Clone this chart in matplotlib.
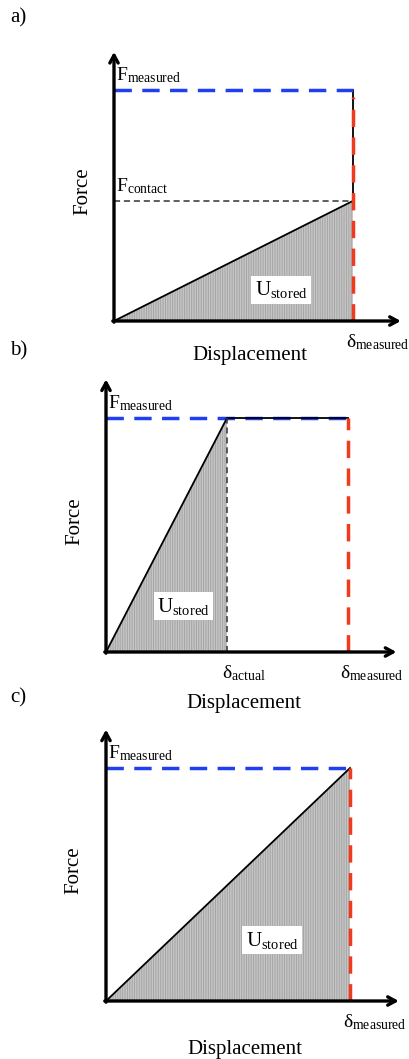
import matplotlib
matplotlib.use("Agg")
import matplotlib.pyplot as plt

plt.rcParams['font.family'] = ['Liberation Serif', 'DejaVu Serif']
plt.rcParams['mathtext.fontset'] = 'custom'
plt.rcParams['mathtext.rm'] = 'Liberation Serif'
plt.rcParams['mathtext.it'] = 'Liberation Serif:italic'
plt.rcParams['hatch.linewidth'] = 0.7

# datos (unidades normalizadas: delta_measured = 1, F_measured = 1)
paneles = ["a)", "b)", "c)"]
delta_measured = [1.0, 1.0, 1.0]
F_measured = [1.0, 1.0, 1.0]
F_contact_a = 0.52
delta_actual_b = 0.50

W, H = 409, 1059
fig = plt.figure(figsize=(W / 100, H / 100), dpi=100)

# origen (px), escala (px por unidad)
origenes = [(114, 321), (106, 652), (106, 1001)]
escalas = [(239, 231), (242, 234), (244, 233)]
xlim = (-0.05, 1.25)
ylim = (-0.05, 1.22)
x_flecha = 1.2
y_flecha = 1.165

AZUL = "#1f3ff0"
ROJO = "#f03a1e"
RELLENO = "#c6c6c6"
RAYAS = "#a4a4a4"

def crear_ejes(ox, oy, ux, uy):
    izq = ox + xlim[0] * ux
    der = ox + xlim[1] * ux
    arriba = oy - ylim[1] * uy
    abajo = oy - ylim[0] * uy
    ax = fig.add_axes([izq / W, 1 - abajo / H, (der - izq) / W, (abajo - arriba) / H])
    ax.set_xlim(*xlim)
    ax.set_ylim(*ylim)
    ax.axis("off")
    return ax

def ejes_flecha(ax):
    props = dict(arrowstyle="->,head_length=0.55,head_width=0.3", lw=2.4, color="black",
                 shrinkA=0, shrinkB=0)
    ax.annotate("", xy=(x_flecha, 0), xytext=(-0.005, 0), arrowprops=props)
    ax.annotate("", xy=(0, y_flecha), xytext=(0, -0.005), arrowprops=props)

def etiqueta_u(ax, x, y):
    ax.text(x, y, r"U$_{\mathrm{stored}}$", fontsize=15, ha="center", va="center",
            bbox=dict(facecolor="white", edgecolor="none", pad=2.5))

ejes = []
for i in range(3):
    ox, oy = origenes[i]
    ux, uy = escalas[i]
    ax = crear_ejes(ox, oy, ux, uy)
    ejes.append(ax)
    fig.text(10 / W, 1 - (18 + [0, 333, 680][i]) / H, paneles[i], fontsize=15,
             ha="left", va="center")
    ax.text(-0.13, 0.56, "Force", rotation=90, fontsize=15, ha="center", va="center")

# a) contacto antes del desplazamiento medido
ax = ejes[0]
dm, fm = delta_measured[0], F_measured[0]
ax.fill([0, dm, dm], [0, F_contact_a, 0], facecolor=RELLENO, edgecolor=RAYAS,
        hatch="|" * 7, lw=0)
ax.plot([0, dm], [0, F_contact_a], color="black", lw=1.3)
ax.plot([dm, dm], [F_contact_a, fm], color="black", lw=1.3)
ax.plot([0, dm], [F_contact_a, F_contact_a], color="#333333", lw=1.1, dashes=(4, 2.5))
ax.plot([0, dm], [fm, fm], color=AZUL, lw=2.5, dashes=(5, 3))
ax.plot([dm, dm], [0, fm * 0.97], color=ROJO, lw=2.5, dashes=(5, 3))
ax.text(0.01, fm + 0.02, r"F$_{\mathrm{measured}}$", fontsize=14, ha="left", va="bottom")
ax.text(0.01, F_contact_a + 0.02, r"F$_{\mathrm{contact}}$", fontsize=14, ha="left", va="bottom")
ax.text(dm - 0.03, -0.05, r"$\mathrm{δ}_{\mathrm{measured}}$", fontsize=14, ha="left", va="top")
etiqueta_u(ax, 0.70, 0.135)
ax.text(0.57, -0.15, "Displacement", fontsize=15, ha="center", va="center")
ejes_flecha(ax)

# b) fuerza máxima alcanzada en delta_actual
ax = ejes[1]
dm, fm = delta_measured[1], F_measured[1]
ax.fill([0, delta_actual_b, delta_actual_b], [0, fm, 0], facecolor=RELLENO,
        edgecolor=RAYAS, hatch="|" * 7, lw=0)
ax.plot([0, dm], [fm, fm], color=AZUL, lw=2.5, dashes=(5, 3))
ax.plot([0, delta_actual_b, dm], [0, fm, fm], color="black", lw=1.3)
ax.plot([delta_actual_b, delta_actual_b], [0, fm], color="#333333", lw=1.1, dashes=(4, 2.5))
ax.plot([dm, dm], [0, fm], color=ROJO, lw=2.5, dashes=(5, 3))
ax.text(0.01, fm + 0.02, r"F$_{\mathrm{measured}}$", fontsize=14, ha="left", va="bottom")
ax.text(delta_actual_b - 0.02, -0.05, r"$\mathrm{δ}_{\mathrm{actual}}$", fontsize=14,
        ha="left", va="top")
ax.text(dm - 0.035, -0.05, r"$\mathrm{δ}_{\mathrm{measured}}$", fontsize=14, ha="left", va="top")
etiqueta_u(ax, 0.32, 0.195)
ax.text(0.57, -0.22, "Displacement", fontsize=15, ha="center", va="center")
ejes_flecha(ax)

# c) sin deslizamiento
ax = ejes[2]
dm, fm = delta_measured[2], F_measured[2]
ax.fill([0, dm, dm], [0, fm, 0], facecolor=RELLENO, edgecolor=RAYAS,
        hatch="|" * 7, lw=0)
ax.plot([0, dm], [0, fm], color="black", lw=1.3)
ax.plot([0, dm], [fm, fm], color=AZUL, lw=2.5, dashes=(5, 3))
ax.plot([dm, dm], [0, fm], color=ROJO, lw=2.5, dashes=(5, 3))
ax.text(0.01, fm + 0.02, r"F$_{\mathrm{measured}}$", fontsize=14, ha="left", va="bottom")
ax.text(dm - 0.03, -0.05, r"$\mathrm{δ}_{\mathrm{measured}}$", fontsize=14, ha="left", va="top")
etiqueta_u(ax, 0.68, 0.26)
ax.text(0.57, -0.21, "Displacement", fontsize=15, ha="center", va="center")
ejes_flecha(ax)

fig.savefig("out.png", dpi=100)
